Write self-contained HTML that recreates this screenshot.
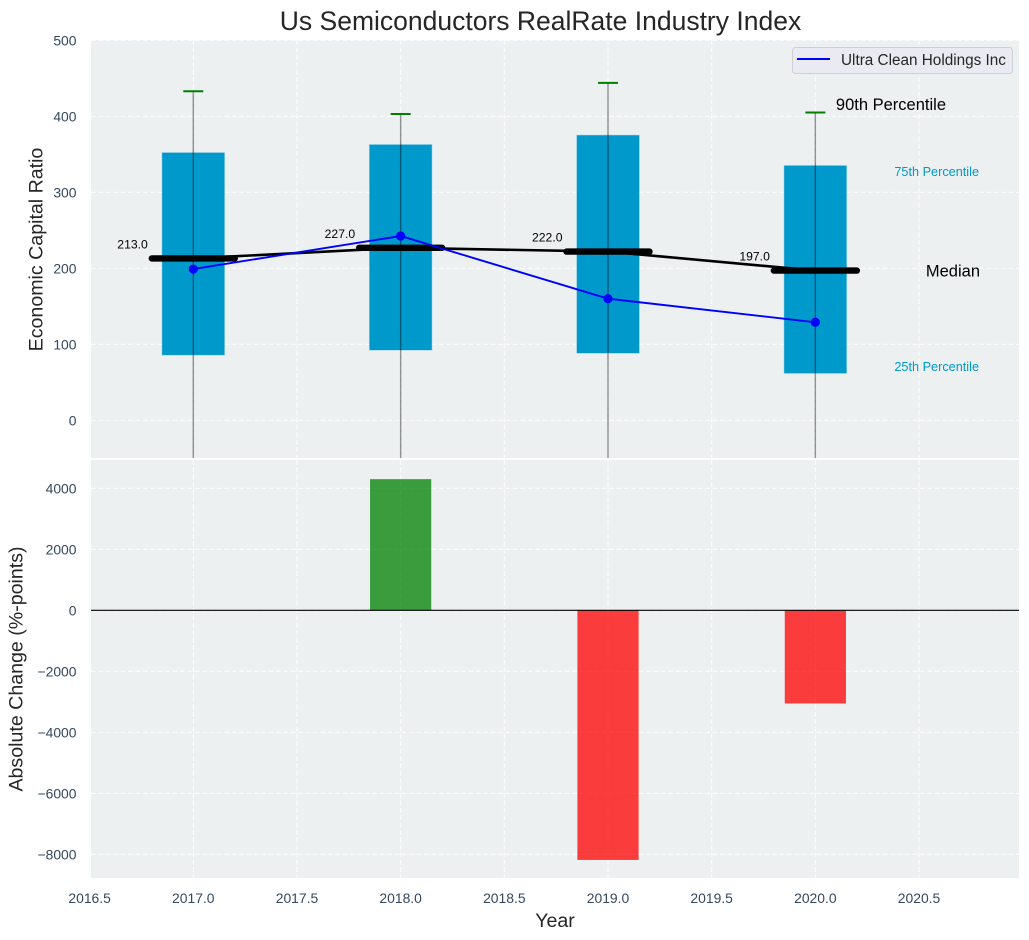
<!DOCTYPE html>
<html>
<head>
<meta charset="utf-8">
<title>Us Semiconductors RealRate Industry Index</title>
<style>
html,body{margin:0;padding:0;background:#fff;width:1029px;height:940px;overflow:hidden}
svg{display:block;font-family:"Liberation Sans",Arial,sans-serif}
</style>
</head>
<body>
<svg id="chart" width="1029" height="940" viewBox="0 0 1029 940" xmlns="http://www.w3.org/2000/svg">
<defs>
<clipPath id="clip-top"><rect x="91" y="40" width="928" height="418"/></clipPath>
<clipPath id="clip-bottom"><rect x="91" y="460" width="928" height="418"/></clipPath>
</defs>
</svg>
<script>
const years = [2017, 2018, 2019, 2020];
const p10 = [-120, -110, -115, -125];
const p25 = [86, 92.5, 88.5, 62];
const p50 = [213, 227, 222, 197];
const p75 = [352, 362.6, 375, 335];
const p90 = [433, 403, 444, 405];
const company = [199, 242.5, 160, 129];
const absChange = [0, 4300, -8185, -3055];
const xTicks = [2016.5, 2017, 2017.5, 2018, 2018.5, 2019, 2019.5, 2020, 2020.5];
const yTicksTop = [0, 100, 200, 300, 400, 500];
const yTicksBottom = [-8000, -6000, -4000, -2000, 0, 2000, 4000];

const svg = document.getElementById('chart');
const NS = 'http://www.w3.org/2000/svg';
const x = v => 193.3 + (v - 2017) * 207.35;
const yTop = v => 420.3 - v * 0.76;
const yBot = v => 610.3 - v * 0.0305;
const BW = 0.15;
const MW = 0.2;

function add(parent, tag, attrs, text) {
  const el = document.createElementNS(NS, tag);
  for (const k in attrs) el.setAttribute(k, attrs[k]);
  if (text !== undefined) el.textContent = text;
  parent.appendChild(el);
  return el;
}
function fmtTick(v) { return (v < 0 ? '\u2212' : '') + Math.abs(v); }

/* panel backgrounds */
const bgTop = add(svg, 'rect', {x: 91, y: 40, width: 928, height: 418, fill: '#ecf0f1'});


const bgBot = add(svg, 'rect', {x: 91, y: 460, width: 928, height: 418, fill: '#ecf0f1'});



const gTop = add(svg, 'g', {'clip-path': 'url(#clip-top)'});


const gBot = add(svg, 'g', {'clip-path': 'url(#clip-bottom)'});



const gridStyle = {stroke: '#ffffff', 'stroke-width': 1.1, 'stroke-dasharray': '5 2.4', 'stroke-opacity': 0.85};

/* grid */
xTicks.forEach(t => {
  const a = add(gTop, 'line', Object.assign({x1: x(t), x2: x(t), y1: 40, y2: 458}, gridStyle));
  
  
  const b = add(gBot, 'line', Object.assign({x1: x(t), x2: x(t), y1: 460, y2: 878}, gridStyle));
  
  
  const l = add(svg, 'text', {x: x(t), y: 903, 'text-anchor': 'middle', 'font-size': 13.9, fill: '#34495e'}, String(t.toFixed(1)));
  
  
});
yTicksTop.forEach(t => {
  const a = add(gTop, 'line', Object.assign({x1: 91, x2: 1019, y1: yTop(t), y2: yTop(t)}, gridStyle));
  
  
  const l = add(svg, 'text', {x: 76.5, y: yTop(t) + 5.4, 'text-anchor': 'end', 'font-size': 13.9, fill: '#34495e'}, fmtTick(t));
  
  
});
yTicksBottom.forEach(t => {
  const a = add(gBot, 'line', Object.assign({x1: 91, x2: 1019, y1: yBot(t), y2: yBot(t)}, gridStyle));
  
  
  const l = add(svg, 'text', {x: 76.5, y: yBot(t) + 5.4, 'text-anchor': 'end', 'font-size': 13.9, fill: '#34495e'}, fmtTick(t));
  
  
});

/* boxes */
years.forEach((yr, i) => {
  const r = add(gTop, 'rect', {
    x: x(yr - BW), width: x(yr + BW) - x(yr - BW),
    y: yTop(p75[i]), height: yTop(p25[i]) - yTop(p75[i]),
    fill: '#0099cc', stroke: '#0099cc', 'stroke-opacity': 0.35, 'stroke-width': 1
  });
  
  
});

/* median connecting line */
const medLine = add(gTop, 'polyline', {
  points: years.map((yr, i) => x(yr) + ',' + yTop(p50[i])).join(' '),
  fill: 'none', stroke: '#000', 'stroke-width': 2.6
});



/* median bars and labels */
years.forEach((yr, i) => {
  const m = add(gTop, 'line', {
    x1: x(yr - MW), x2: x(yr + MW), y1: yTop(p50[i]), y2: yTop(p50[i]),
    stroke: '#000', 'stroke-width': 6.4, 'stroke-linecap': 'round'
  });
  
  
  const l = add(svg, 'text', {
    x: x(yr) - 76, y: yTop(p50[i]) - 10, 'font-size': 12.2, fill: '#000'
  }, p50[i].toFixed(1));
  
  
});

/* whiskers */
years.forEach((yr, i) => {
  const w = add(gTop, 'line', {
    x1: x(yr), x2: x(yr), y1: yTop(p10[i]), y2: yTop(p90[i]),
    stroke: '#000', 'stroke-opacity': 0.42, 'stroke-width': 1.4
  });
  
  
  const c = add(gTop, 'line', {
    x1: x(yr) - 10, x2: x(yr) + 10, y1: yTop(p90[i]), y2: yTop(p90[i]),
    stroke: '#008000', 'stroke-width': 2
  });
  
  
});

/* company series */
const compLine = add(gTop, 'polyline', {
  points: years.map((yr, i) => x(yr) + ',' + yTop(company[i])).join(' '),
  fill: 'none', stroke: '#0000ff', 'stroke-width': 1.9
});


years.forEach((yr, i) => {
  const p = add(gTop, 'circle', {cx: x(yr), cy: yTop(company[i]), r: 4.6, fill: '#0000ff'});
  
  
});

/* change bars */
years.forEach((yr, i) => {
  const v = absChange[i];
  if (v === 0) return;
  const col = v > 0 ? '#008000' : '#ff0000';
  const top = Math.min(yBot(v), yBot(0));
  const h = Math.abs(yBot(v) - yBot(0));
  const b = add(gBot, 'rect', {
    x: x(yr - BW) + 0.5, width: x(yr + BW) - x(yr - BW) - 1,
    y: top, height: h, fill: col, 'fill-opacity': 0.75
  });
  
  
});
const zero = add(gBot, 'line', {x1: 91, x2: 1019, y1: yBot(0), y2: yBot(0), stroke: '#000', 'stroke-width': 1.1});


</script>

<svg style="position:absolute;left:0;top:0;font-family:'Liberation Sans',Arial,sans-serif" width="1029" height="940" viewBox="0 0 1029 940" xmlns="http://www.w3.org/2000/svg">
<text x="540.5" y="30" text-anchor="middle" font-size="26.5" fill="#262626">Us Semiconductors RealRate Industry Index</text>
<text transform="translate(42.5,249.5) rotate(-90)" text-anchor="middle" font-size="19.6" fill="#262626">Economic Capital Ratio</text>
<text transform="translate(22.5,669) rotate(-90)" text-anchor="middle" font-size="19.6" fill="#262626">Absolute Change (%-points)</text>
<text x="555" y="927" text-anchor="middle" font-size="19.6" fill="#262626">Year</text>
<text x="946" y="110" text-anchor="end" font-size="16.5" fill="#000">90th Percentile</text>
<text x="979" y="176" text-anchor="end" font-size="12.7" fill="#0099cc">75th Percentile</text>
<text x="980" y="276.5" text-anchor="end" font-size="16.5" fill="#000">Median</text>
<text x="979" y="371" text-anchor="end" font-size="12.7" fill="#0099cc">25th Percentile</text>
<g>
<rect x="792.5" y="47.5" width="220" height="26" rx="3" fill="#eaeaf2" stroke="#cfcfd4" stroke-width="1"/>
<line x1="797" x2="830" y1="59" y2="59" stroke="#0000ff" stroke-width="1.9"/>
<text x="841" y="65" font-size="15.3" fill="#262626">Ultra Clean Holdings Inc</text>
</g>
</svg>
</body>
</html>
